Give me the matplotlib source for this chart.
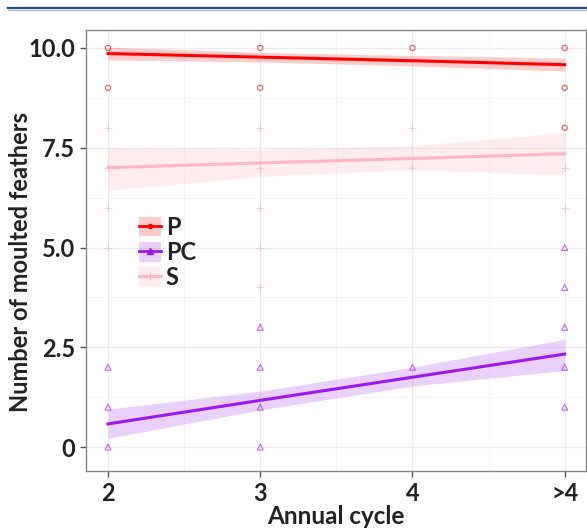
import matplotlib

matplotlib.use("Agg")
import matplotlib.pyplot as plt
from matplotlib.lines import Line2D
from matplotlib.patches import Patch
from matplotlib.ticker import MultipleLocator

plt.rcParams["font.family"] = ["Lato", "DejaVu Sans"]

cycle_pos = [2, 3, 4, 5]
cycle_labels = ["2", "3", "4", ">4"]

# observed counts (x position, value)
p_x = [2, 2, 3, 3, 4, 5, 5, 5]
p_y = [10, 9, 10, 9, 10, 10, 9, 8]
s_x = [2, 2, 2, 2, 3, 3, 3, 3, 3, 4, 4, 5, 5]
s_y = [8, 7, 6, 5, 8, 7, 6, 5, 4, 8, 7, 7, 6]
pc_x = [2, 2, 2, 3, 3, 3, 3, 4, 5, 5, 5, 5, 5]
pc_y = [2, 1, 0, 3, 2, 1, 0, 2, 5, 4, 3, 2, 1]

# fitted lines and confidence bands at each cycle position
p_fit = [9.86, 9.77, 9.68, 9.58]
p_lo = [9.70, 9.65, 9.55, 9.42]
p_hi = [10.02, 9.89, 9.81, 9.75]
s_fit = [7.00, 7.12, 7.23, 7.35]
s_lo = [6.43, 6.78, 6.95, 6.82]
s_hi = [7.50, 7.45, 7.55, 7.88]
pc_fit = [0.58, 1.17, 1.75, 2.33]
pc_lo = [0.22, 0.93, 1.53, 1.92]
pc_hi = [0.95, 1.40, 2.00, 2.70]

col_p = "#FF0000"
col_pc = "#9A1AEE"
col_s = "#FFB6C1"

fig = plt.figure(figsize=(5.87, 5.31), dpi=100)
ax = fig.add_axes([86 / 587, 60 / 531, 500 / 587, 441 / 531])

ax.fill_between(cycle_pos, p_lo, p_hi, color=col_p, alpha=0.2, lw=0)
ax.fill_between(cycle_pos, s_lo, s_hi, color=col_s, alpha=0.25, lw=0)
ax.fill_between(cycle_pos, pc_lo, pc_hi, color=col_pc, alpha=0.2, lw=0)

ax.scatter(p_x, p_y, marker="o", s=14, facecolors="none", edgecolors=col_p,
           linewidths=0.8, alpha=0.7, zorder=3)
ax.scatter(s_x, s_y, marker="+", s=30, color=col_s, linewidths=0.8,
           alpha=0.7, zorder=3)
ax.scatter(pc_x, pc_y, marker="^", s=18, facecolors="none",
           edgecolors="#B040FF", linewidths=0.8, alpha=0.8, zorder=3)

ax.plot(cycle_pos, p_fit, color=col_p, lw=2.2, zorder=4)
ax.plot(cycle_pos, s_fit, color=col_s, lw=2.2, zorder=4)
ax.plot(cycle_pos, pc_fit, color=col_pc, lw=2.2, zorder=4)

ax.set_xlim(1.855, 5.14)
ax.set_ylim(-0.6, 10.45)
ax.set_xticks(cycle_pos)
ax.set_xticklabels(cycle_labels)
ax.set_yticks([0, 2.5, 5, 7.5, 10])
ax.set_yticklabels(["0", "2.5", "5.0", "7.5", "10.0"])
ax.xaxis.set_minor_locator(MultipleLocator(0.5))
ax.yaxis.set_minor_locator(MultipleLocator(1.25))

ax.grid(True, which="major", color="#ebebeb", lw=1.0, zorder=0)
ax.grid(True, which="minor", color="#f4f4f4", lw=0.6, zorder=0)
ax.set_axisbelow(True)
ax.tick_params(which="minor", length=0)
ax.tick_params(which="major", length=4, width=1, color="#555555",
               labelsize=17, labelcolor="#222222", pad=4)
for lab in ax.get_xticklabels() + ax.get_yticklabels():
    lab.set_fontweight("bold")
for side in ["left", "bottom", "top", "right"]:
    ax.spines[side].set_color("#888888")
    ax.spines[side].set_linewidth(1.0)

ax.set_xlabel("Annual cycle", fontsize=17.5, fontweight="bold",
              color="#222222", labelpad=0)
ax.set_ylabel("Number of moulted feathers", fontsize=17, fontweight="bold",
              color="#222222")
ax.yaxis.set_label_coords(-0.107, 0.475)

handles = [
    (Patch(facecolor=col_p, alpha=0.2, lw=0),
     Line2D([], [], color=col_p, lw=2, marker="o", ms=3)),
    (Patch(facecolor=col_pc, alpha=0.2, lw=0),
     Line2D([], [], color=col_pc, lw=2, marker="^", ms=4)),
    (Patch(facecolor=col_s, alpha=0.25, lw=0),
     Line2D([], [], color=col_s, lw=2, marker="+", ms=6)),
]
leg = ax.legend(handles, ["P", "PC", "S"], loc="upper left",
                bbox_to_anchor=(0.106, 0.579), frameon=False, fontsize=17,
                handlelength=0.93, handleheight=0.9, handletextpad=0.2,
                labelspacing=0.1, borderaxespad=0, borderpad=0)
for t in leg.get_texts():
    t.set_fontweight("bold")
    t.set_color("#222222")

fig.add_artist(Line2D([8 / 587, 1], [1 - 8 / 531, 1 - 8 / 531],
                      color="#1F4E8C", lw=1.6, transform=fig.transFigure))
fig.add_artist(Line2D([8 / 587, 1], [1 - 9.5 / 531, 1 - 9.5 / 531],
                      color="#9FB6D3", lw=0.8, transform=fig.transFigure))

fig.savefig("out.png", dpi=100)
